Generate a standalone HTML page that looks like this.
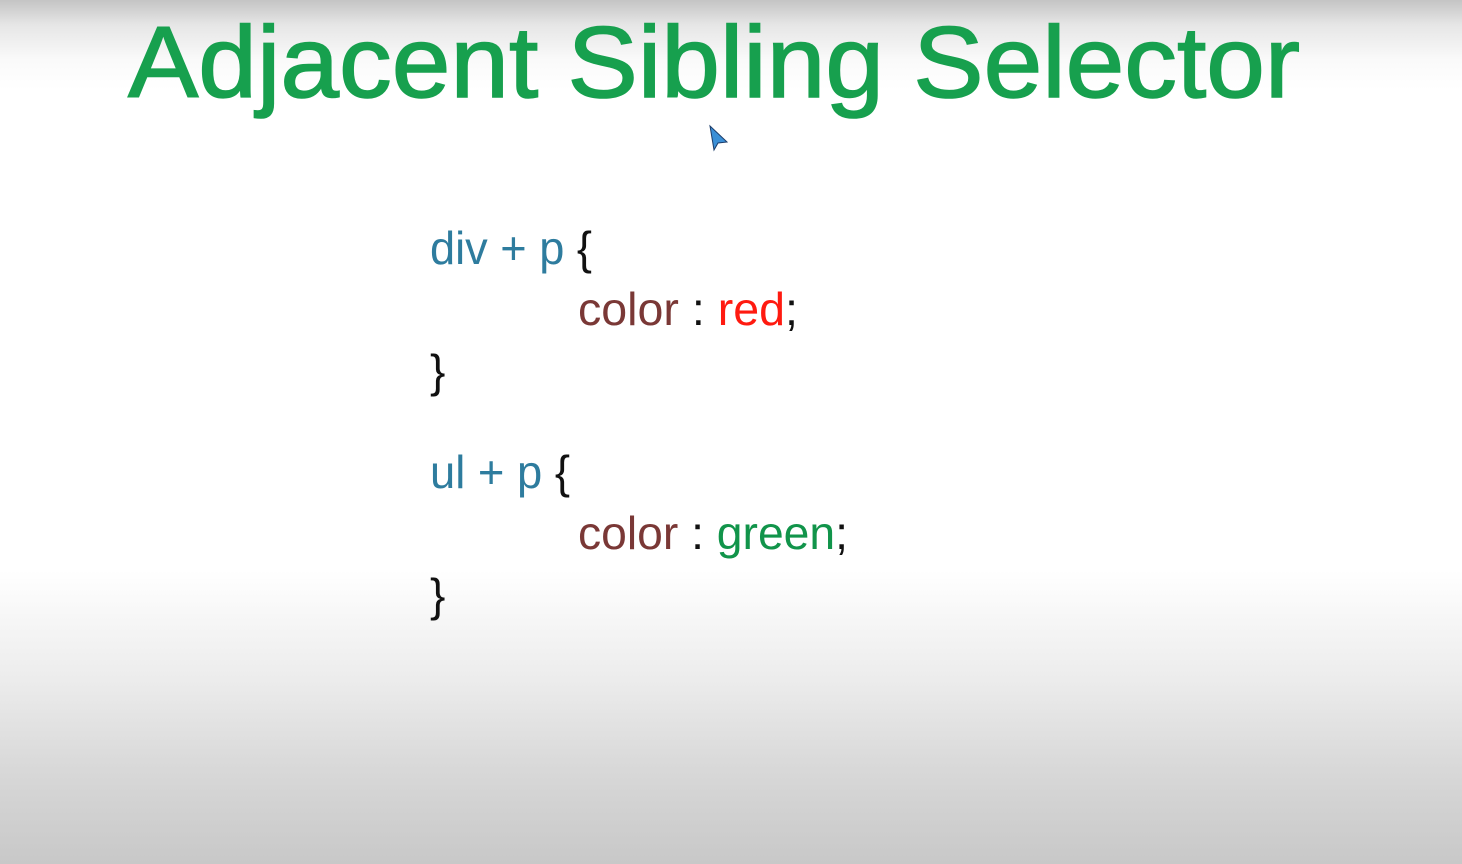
<!DOCTYPE html>
<html><head><style>
html,body{margin:0;padding:0;width:1462px;height:864px;overflow:hidden}
body{background:linear-gradient(to bottom,#c4c4c4 0px,#e6e6e6 25px,#fafafa 60px,#ffffff 90px,#ffffff 570px,#ececec 680px,#d8d8d8 770px,#c8c8c8 864px)}
svg{position:absolute;left:0;top:0}
text{font-family:"Liberation Sans",sans-serif}
</style></head><body>
<svg width="1462" height="864" viewBox="0 0 1462 864">
<text x="128" y="97" font-size="101" fill="#17a04e" stroke="#17a04e" stroke-width="1.5" textLength="1172" lengthAdjust="spacingAndGlyphs">Adjacent Sibling Selector</text>
<path d="M710 126 L727 142 L718 143 L714 150 Z" fill="#3b8fd6" stroke="#1d3d6a" stroke-width="1"/>
<text x="430" y="264" font-size="46" textLength="162" lengthAdjust="spacingAndGlyphs"><tspan fill="#2e7c9e">div + p </tspan><tspan fill="#111">{</tspan></text>
<text x="578" y="325" font-size="46" textLength="220" lengthAdjust="spacingAndGlyphs"><tspan fill="#7a3836">color </tspan><tspan fill="#111">: </tspan><tspan fill="#ff1a10">red</tspan><tspan fill="#111">;</tspan></text>
<text x="430" y="387" font-size="46" fill="#111">}</text>
<text x="430" y="488" font-size="46" textLength="140" lengthAdjust="spacingAndGlyphs"><tspan fill="#2e7c9e">ul + p </tspan><tspan fill="#111">{</tspan></text>
<text x="578" y="549" font-size="46" textLength="270" lengthAdjust="spacingAndGlyphs"><tspan fill="#7a3836">color </tspan><tspan fill="#111">: </tspan><tspan fill="#11944a">green</tspan><tspan fill="#111">;</tspan></text>
<text x="430" y="611" font-size="46" fill="#111">}</text>
</svg>
</body></html>
